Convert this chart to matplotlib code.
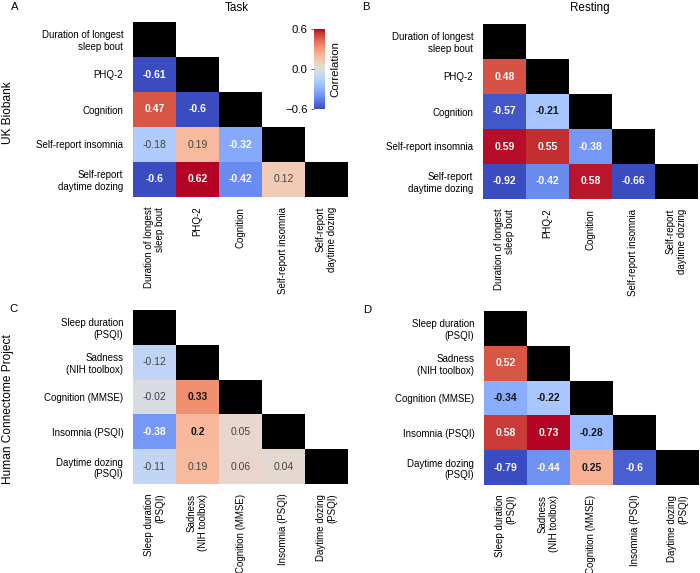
import numpy as np
import matplotlib
matplotlib.use("Agg")
import matplotlib.pyplot as plt
from matplotlib.colors import ListedColormap, Normalize

plt.rcParams['font.family'] = ['Liberation Sans', 'DejaVu Sans']

# ---------------- data ----------------
ukb_labels = ["Duration of longest\nsleep bout", "PHQ-2", "Cognition",
              "Self-report insomnia", "Self-report\ndaytime dozing"]
hcp_labels = ["Sleep duration\n(PSQI)", "Sadness\n(NIH toolbox)", "Cognition (MMSE)",
              "Insomnia (PSQI)", "Daytime dozing\n(PSQI)"]

# lower-triangle values, row by row (row i has i values)
task_ukb = [[-0.61], [0.47, -0.6], [-0.18, 0.19, -0.32], [-0.6, 0.62, -0.42, 0.12]]
rest_ukb = [[0.48], [-0.57, -0.21], [0.59, 0.55, -0.38], [-0.92, -0.42, 0.58, -0.66]]
task_hcp = [[-0.12], [-0.02, 0.33], [-0.38, 0.2, 0.05], [-0.11, 0.19, 0.06, 0.04]]
rest_hcp = [[0.52], [-0.34, -0.22], [0.58, 0.73, -0.28], [-0.79, -0.44, 0.25, -0.6]]

# significance (bold annotation)
task_ukb_sig = [[1], [1, 1], [0, 0, 1], [1, 1, 1, 0]]
rest_ukb_sig = [[1], [1, 1], [1, 1, 1], [1, 1, 1, 1]]
task_hcp_sig = [[0], [0, 1], [1, 1, 0], [0, 0, 0, 0]]
rest_hcp_sig = [[1], [1, 1], [1, 1, 1], [1, 1, 1, 1]]

color_limits = [0.6, 0.6, 0.6, 0.66]
colorbar_ticks = [-0.6, 0.0, 0.6]

W, H = 700, 573
fig = plt.figure(figsize=(W / 100, H / 100), dpi=100)


def px_axes(x0, y0, x1, y1):
    return fig.add_axes([x0 / W, 1 - y1 / H, (x1 - x0) / W, (y1 - y0) / H])


cmap = plt.get_cmap('coolwarm')
FS = 7.0


def draw(ax, rows, sig, labels, lim):
    n = len(labels)
    M = np.full((n, n), np.nan)
    S = np.zeros((n, n), dtype=bool)
    for i, r in enumerate(rows):
        for j, v in enumerate(r):
            M[i + 1, j] = v
            S[i + 1, j] = bool(sig[i][j])
    norm = Normalize(-lim, lim)
    ax.pcolormesh(np.arange(n + 1), np.arange(n + 1), np.ma.masked_invalid(M),
                  cmap=cmap, norm=norm)
    D = np.full((n, n), np.nan)
    for k in range(n):
        D[k, k] = 1
    ax.pcolormesh(np.arange(n + 1), np.arange(n + 1), np.ma.masked_invalid(D),
                  cmap=ListedColormap(['black']))
    for i in range(n):
        for j in range(n):
            if not np.isnan(M[i, j]):
                v = M[i, j]
                ratio = abs(v) / lim
                dark_cell = ratio > (0.525 if v < 0 else 0.62)
                if dark_cell:
                    col = 'white'
                elif S[i, j]:
                    col = '#141414'
                else:
                    col = '#444444'
                ax.text(j + 0.5, i + 0.5, f"{v:g}", ha='center', va='center',
                        fontsize=7.5, color=col,
                        fontweight='bold' if S[i, j] else 'normal')
    ax.set_xlim(0, n)
    ax.set_ylim(n, 0)
    ax.set_xticks(np.arange(n) + 0.5)
    ax.set_yticks(np.arange(n) + 0.5)
    ax.set_xticklabels(labels, rotation=90, multialignment='right', fontsize=FS)
    ax.set_yticklabels(labels, multialignment='right', fontsize=FS)
    ax.tick_params(axis='y', length=0, pad=7)
    ax.tick_params(axis='x', length=0, pad=7)
    for s in ax.spines.values():
        s.set_visible(False)


axA = px_axes(133, 22, 348, 197)
axB = px_axes(483, 24, 698, 199)
axC = px_axes(133, 310, 348, 484)
axD = px_axes(484, 311, 699, 485)

draw(axA, task_ukb, task_ukb_sig, ukb_labels, color_limits[0])
draw(axB, rest_ukb, rest_ukb_sig, ukb_labels, color_limits[1])
draw(axC, task_hcp, task_hcp_sig, hcp_labels, color_limits[2])
draw(axD, rest_hcp, rest_hcp_sig, hcp_labels, color_limits[3])

# colorbar
cax = px_axes(314, 29, 325, 109)
sm = plt.cm.ScalarMappable(norm=Normalize(colorbar_ticks[0], colorbar_ticks[-1]), cmap=cmap)
cb = fig.colorbar(sm, cax=cax, ticks=colorbar_ticks)
cb.outline.set_visible(False)
cax.yaxis.set_ticks_position('left')
cax.yaxis.set_label_position('right')
cax.set_yticklabels([f"{t:.1f}".replace("-", "\u2212") for t in colorbar_ticks], fontsize=8.2)
cax.tick_params(length=2.5, width=0.6, pad=2, color='#555555')
cb.set_label("Correlation", fontsize=8.2, labelpad=4)

# titles & labels
fig.text(237 / W, 1 - 8 / H, "Task", ha='center', va='center', fontsize=8.4)
fig.text(590 / W, 1 - 8 / H, "Resting", ha='center', va='center', fontsize=8.4)
fig.text(15 / W, 1 - 7 / H, "A", ha='center', va='center', fontsize=8.2)
fig.text(366 / W, 1 - 7 / H, "B", ha='center', va='center', fontsize=8.2)
fig.text(13 / W, 1 - 309 / H, "C", ha='center', va='center', fontsize=8.2)
fig.text(367 / W, 1 - 310 / H, "D", ha='center', va='center', fontsize=8.2)
fig.text(8 / W, 1 - 113 / H, "UK Biobank", rotation=90, ha='center', va='center', fontsize=8.6)
fig.text(8 / W, 1 - 409 / H, "Human Connectome Project", rotation=90, ha='center',
         va='center', fontsize=8.6)

fig.savefig("out.png", dpi=100)
